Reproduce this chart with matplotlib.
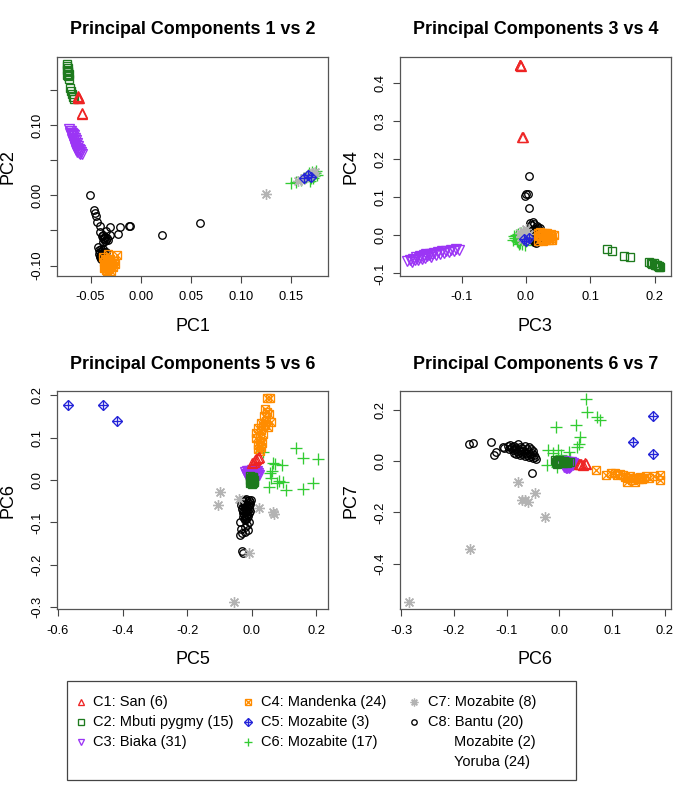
import matplotlib
matplotlib.use("Agg")
import matplotlib.pyplot as plt
from matplotlib.patches import Rectangle

plt.rcParams["font.family"] = ["Liberation Sans", "DejaVu Sans"]
plt.rcParams["axes.unicode_minus"] = False

W, H = 685, 806

groups = ["C1", "C2", "C3", "C4", "C5", "C6", "C7", "C8"]
legend_labels = ["C1: San (6)", "C2: Mbuti pygmy (15)", "C3: Biaka (31)",
                 "C4: Mandenka (24)", "C5: Mozabite (3)", "C6: Mozabite (17)",
                 "C7: Mozabite (8)", "C8: Bantu (20)"]
legend_extra = ["Mozabite (2)", "Yoruba (24)"]
colors = {"C1": "#ee2424", "C2": "#1d7a1d", "C3": "#9b35f5", "C4": "#ff8c00",
          "C5": "#2424d8", "C6": "#33cc33", "C7": "#b3b3b3", "C8": "#000000"}

# ---- PC1 vs PC2 ----
pc1_x = {
    "C1": [-0.062, -0.0615, -0.0625, -0.062, -0.058, -0.0585],
    "C2": [-0.073, -0.073, -0.072, -0.073, -0.072, -0.072, -0.071, -0.073, -0.072, -0.071,
           -0.070, -0.069, -0.068, -0.067, -0.066],
    "C3": [-0.071, -0.070, -0.069, -0.070, -0.068, -0.069, -0.067, -0.068, -0.066, -0.067,
           -0.068, -0.065, -0.066, -0.067, -0.064, -0.065, -0.066, -0.063, -0.064, -0.065,
           -0.062, -0.063, -0.064, -0.061, -0.062, -0.063, -0.060, -0.061, -0.059, -0.060, -0.058],
    "C4": [-0.038, -0.036, -0.034, -0.037, -0.035, -0.033, -0.031, -0.036, -0.034, -0.032,
           -0.030, -0.037, -0.035, -0.033, -0.031, -0.029, -0.027, -0.034, -0.032, -0.030,
           -0.028, -0.026, -0.024, -0.033],
    "C5": [0.163, 0.167, 0.170],
    "C6": [0.150, 0.155, 0.160, 0.163, 0.165, 0.167, 0.168, 0.169, 0.170, 0.171, 0.172, 0.173,
           0.174, 0.175, 0.176, 0.172, 0.169],
    "C7": [0.125, 0.157, 0.160, 0.163, 0.166, 0.169, 0.172, 0.174],
    "C8": [-0.051, -0.047, -0.046, -0.045, -0.044, -0.041, -0.041, -0.038, -0.035, -0.031,
           -0.031, -0.021, -0.023, -0.012, -0.011, 0.021, 0.059,
           -0.039, -0.038, -0.037, -0.036, -0.035, -0.034, -0.036, -0.033, -0.038,
           -0.043, -0.042, -0.041, -0.040, -0.039, -0.038, -0.042, -0.041, -0.040, -0.039,
           -0.037, -0.036, -0.040, -0.038, -0.037, -0.041, -0.039, -0.038, -0.036, -0.035],
}
pc2_y = {
    "C1": [0.140, 0.139, 0.141, 0.138, 0.116, 0.117],
    "C2": [0.187, 0.184, 0.181, 0.178, 0.176, 0.175, 0.173, 0.171, 0.169, 0.166,
           0.152, 0.148, 0.144, 0.140, 0.137],
    "C3": [0.094, 0.092, 0.091, 0.089, 0.088, 0.086, 0.087, 0.084, 0.085, 0.082,
           0.080, 0.081, 0.079, 0.077, 0.078, 0.075, 0.073, 0.074, 0.071, 0.069,
           0.070, 0.067, 0.065, 0.066, 0.063, 0.062, 0.064, 0.060, 0.061, 0.058, 0.059],
    "C4": [-0.088, -0.090, -0.092, -0.095, -0.097, -0.094, -0.091, -0.100, -0.102, -0.099,
           -0.096, -0.104, -0.106, -0.103, -0.101, -0.098, -0.093, -0.108, -0.105, -0.107,
           -0.102, -0.097, -0.085, -0.083],
    "C5": [0.024, 0.029, 0.026],
    "C6": [0.017, 0.019, 0.022, 0.024, 0.026, 0.029, 0.031, 0.027, 0.025, 0.033, 0.030, 0.028,
           0.032, 0.035, 0.029, 0.024, 0.021],
    "C7": [0.002, 0.020, 0.022, 0.025, 0.027, 0.029, 0.031, 0.033],
    "C8": [0.000, -0.021, -0.025, -0.029, -0.038, -0.044, -0.052, -0.056, -0.051, -0.045,
           -0.056, -0.045, -0.055, -0.044, -0.043, -0.057, -0.039,
           -0.058, -0.060, -0.062, -0.059, -0.063, -0.061, -0.065, -0.064, -0.066,
           -0.074, -0.078, -0.080, -0.076, -0.082, -0.085, -0.084, -0.086, -0.088, -0.079,
           -0.083, -0.087, -0.090, -0.089, -0.081, -0.088, -0.084, -0.077, -0.086, -0.080],
}

# ---- PC3 vs PC4 ----
pc3_x = {
    "C1": [-0.0095, -0.009, -0.0085, -0.0095, -0.005, -0.0055],
    "C2": [0.125, 0.133, 0.152, 0.161, 0.190, 0.194, 0.196, 0.198, 0.200, 0.201, 0.203,
           0.204, 0.206, 0.207, 0.208],
    "C3": [-0.184, -0.180, -0.177, -0.175, -0.172, -0.170, -0.168, -0.166, -0.164, -0.162,
           -0.160, -0.158, -0.156, -0.155, -0.153, -0.151, -0.149, -0.147, -0.145, -0.142,
           -0.139, -0.136, -0.133, -0.130, -0.127, -0.124, -0.120, -0.116, -0.112, -0.108, -0.104],
    "C4": [0.018, 0.020, 0.022, 0.024, 0.026, 0.028, 0.030, 0.032, 0.034, 0.036, 0.038, 0.040,
           0.019, 0.021, 0.023, 0.025, 0.027, 0.029, 0.031, 0.033, 0.035, 0.038, 0.041, 0.043],
    "C5": [-0.003, 0.000, 0.004],
    "C6": [-0.020, -0.017, -0.015, -0.012, -0.010, -0.008, -0.006, -0.004, -0.002, 0.000,
           -0.018, -0.014, -0.011, -0.007, -0.003, -0.013, -0.009],
    "C7": [-0.010, -0.007, -0.004, -0.001, 0.002, 0.005, -0.006, 0.000],
    "C8": [0.005, 0.000, 0.003, -0.002, 0.004, 0.006, 0.011, 0.017, 0.022, 0.008, 0.013, 0.019,
           0.010, 0.012, 0.014, 0.016, 0.018, 0.020, 0.022, 0.011, 0.013, 0.015, 0.017, 0.019,
           0.021, 0.010, 0.012, 0.014, 0.016, 0.018, 0.020, 0.022, 0.011, 0.013, 0.015, 0.017,
           0.019, 0.021, 0.012, 0.014, 0.016, 0.018, 0.020, 0.013, 0.015, 0.017],
}
pc4_y = {
    "C1": [0.447, 0.448, 0.446, 0.449, 0.260, 0.258],
    "C2": [-0.037, -0.040, -0.054, -0.056, -0.071, -0.072, -0.075, -0.073, -0.077, -0.079,
           -0.078, -0.081, -0.080, -0.083, -0.084],
    "C3": [-0.068, -0.064, -0.070, -0.062, -0.066, -0.058, -0.064, -0.060, -0.055, -0.062,
           -0.057, -0.053, -0.059, -0.050, -0.055, -0.052, -0.048, -0.056, -0.050, -0.046,
           -0.052, -0.044, -0.048, -0.042, -0.046, -0.040, -0.044, -0.038, -0.041, -0.037, -0.039],
    "C4": [0.005, -0.002, 0.008, -0.006, 0.003, -0.010, 0.006, -0.004, 0.002, -0.012, 0.004,
           -0.008, -0.014, 0.001, -0.009, 0.007, -0.015, -0.001, -0.011, 0.005, -0.007, -0.003,
           -0.013, 0.000],
    "C5": [-0.010, -0.015, -0.008],
    "C6": [-0.012, -0.008, 0.002, -0.018, -0.004, 0.005, -0.022, -0.010, -0.026, -0.015,
           -0.002, -0.014, -0.024, -0.001, -0.006, 0.004, -0.019],
    "C7": [0.006, -0.004, 0.012, 0.000, -0.008, 0.004, -0.012, 0.016],
    "C8": [0.157, 0.108, 0.110, 0.104, 0.071, 0.033, 0.036, 0.025, 0.018, 0.028, 0.030, 0.020,
           0.012, 0.014, 0.010, 0.013, 0.011, 0.015, 0.009, 0.006, 0.004, 0.007, 0.003, 0.005,
           0.002, 0.000, -0.002, 0.001, -0.003, -0.001, -0.004, 0.000, -0.006, -0.008, -0.005,
           -0.009, -0.007, -0.010, -0.012, -0.014, -0.011, -0.015, -0.013, -0.017, -0.019, -0.016],
}

# ---- PC5 vs PC6 ----
pc5_x = {
    "C1": [0.021, 0.018, 0.010, 0.006, 0.000, 0.014],
    "C2": [-0.005, 0.000, 0.004, -0.003, 0.002, 0.006, -0.006, 0.000, 0.005, -0.002, 0.003,
           0.008, -0.004, 0.001, 0.004],
    "C3": [-0.020, -0.016, -0.012, -0.008, -0.004, 0.000, 0.004, 0.008, 0.012, 0.016, 0.020,
           -0.018, -0.014, -0.010, -0.006, -0.002, 0.002, 0.006, 0.010, 0.014, 0.018, -0.015,
           -0.011, -0.007, -0.003, 0.001, 0.005, 0.009, 0.013, 0.017, 0.021],
    "C4": [0.046, 0.057, 0.041, 0.048, 0.052, 0.060, 0.038, 0.044, 0.030, 0.036, 0.020, 0.028,
           0.014, 0.034, 0.026, 0.012, 0.024, 0.032, 0.018, 0.028, 0.020, 0.026, 0.042, 0.050],
    "C5": [-0.570, -0.459, -0.416],
    "C6": [0.137, 0.158, 0.206, 0.067, 0.093, 0.072, 0.057, 0.062, 0.060, 0.098, 0.085, 0.160,
           0.191, 0.052, 0.106, 0.077, 0.036],
    "C7": [-0.098, -0.103, -0.041, 0.021, 0.067, 0.070, -0.008, -0.054],
    "C8": [-0.036, -0.030, -0.020, -0.012, -0.032, -0.022, -0.015, -0.030, -0.026, -0.035, -0.010,
           -0.034, -0.030, -0.026, -0.022, -0.018, -0.014, -0.010, -0.006, -0.002,
           -0.032, -0.028, -0.024, -0.020, -0.016, -0.012, -0.008, -0.004,
           -0.030, -0.026, -0.022, -0.018, -0.014, -0.010, -0.006,
           -0.028, -0.024, -0.020, -0.016, -0.012, -0.008,
           -0.026, -0.022, -0.018, -0.014, -0.020],
}
pc6_y = {
    "C1": [0.055, 0.052, 0.047, 0.043, 0.039, 0.050],
    "C2": [0.010, 0.008, 0.006, 0.004, 0.002, 0.000, 0.000, -0.002, -0.003, -0.005, -0.006,
           -0.004, -0.008, -0.009, 0.003],
    "C3": [0.020, 0.022, 0.018, 0.021, 0.019, 0.023, 0.020, 0.022, 0.018, 0.021, 0.017,
           0.015, 0.013, 0.016, 0.012, 0.015, 0.011, 0.014, 0.012, 0.016, 0.013, 0.009,
           0.011, 0.008, 0.010, 0.007, 0.009, 0.011, 0.008, 0.010, 0.012],
    "C4": [0.193, 0.193, 0.168, 0.160, 0.155, 0.138, 0.150, 0.140, 0.135, 0.128, 0.122, 0.118,
           0.112, 0.108, 0.102, 0.098, 0.092, 0.088, 0.082, 0.077, 0.072, 0.068, 0.130, 0.125],
    "C5": [0.177, 0.177, 0.139],
    "C6": [0.075, 0.051, 0.049, 0.039, 0.035, 0.037, 0.016, 0.022, 0.005, -0.004, -0.002,
           -0.022, -0.008, -0.016, -0.024, -0.006, 0.067],
    "C7": [-0.029, -0.059, -0.045, -0.067, -0.075, -0.079, -0.172, -0.287],
    "C8": [-0.130, -0.125, -0.122, -0.118, -0.115, -0.110, -0.105, -0.168, -0.172, -0.100, -0.098,
           -0.050, -0.046, -0.052, -0.048, -0.044, -0.050, -0.046, -0.052, -0.048,
           -0.058, -0.062, -0.056, -0.060, -0.064, -0.058, -0.062, -0.056,
           -0.068, -0.072, -0.066, -0.070, -0.074, -0.068, -0.072,
           -0.078, -0.082, -0.076, -0.080, -0.084, -0.078,
           -0.088, -0.092, -0.086, -0.090, -0.095],
}

# ---- PC6 vs PC7 ----
pc6_x = {
    "C1": [0.039, 0.041, 0.050, 0.049, 0.044, 0.038],
    "C2": [-0.008, -0.004, 0.000, 0.004, 0.008, 0.012, 0.016, 0.020, -0.006, -0.002, 0.002,
           0.006, 0.010, 0.014, -0.004],
    "C3": [0.005, 0.008, 0.011, 0.014, 0.017, 0.020, 0.023, 0.026, 0.006, 0.009, 0.012, 0.015,
           0.018, 0.021, 0.024, 0.027, 0.007, 0.010, 0.013, 0.016, 0.019, 0.022, 0.025, 0.008,
           0.011, 0.014, 0.017, 0.020, 0.012, 0.015, 0.018],
    "C4": [0.070, 0.089, 0.097, 0.105, 0.110, 0.115, 0.121, 0.124, 0.128, 0.131, 0.134, 0.137,
           0.140, 0.143, 0.146, 0.150, 0.153, 0.156, 0.160, 0.165, 0.170, 0.180, 0.191, 0.191],
    "C5": [0.177, 0.139, 0.178],
    "C6": [0.050, 0.052, 0.071, 0.077, -0.006, 0.032, 0.040, 0.034, 0.037, -0.021, -0.002,
           0.019, -0.024, -0.005, -0.012, 0.003, 0.020],
    "C7": [-0.285, -0.169, -0.078, -0.071, -0.065, -0.059, -0.047, -0.027],
    "C8": [-0.172, -0.164, -0.130, -0.124, -0.121, -0.106, -0.104, -0.052,
           -0.098, -0.094, -0.090, -0.086, -0.082, -0.078, -0.074, -0.070, -0.066, -0.062,
           -0.058, -0.054, -0.050,
           -0.096, -0.092, -0.088, -0.084, -0.080, -0.076, -0.072, -0.068, -0.064, -0.060,
           -0.056, -0.052, -0.048,
           -0.086, -0.082, -0.078, -0.074, -0.070, -0.066, -0.062, -0.058, -0.054, -0.050,
           -0.046, -0.044],
}
pc7_y = {
    "C1": [-0.010, -0.012, -0.011, -0.009, -0.015, -0.013],
    "C2": [0.002, -0.001, 0.003, -0.002, 0.001, -0.003, -0.005, -0.004, -0.006, -0.008, -0.005,
           -0.007, -0.006, -0.009, -0.010],
    "C3": [-0.003, -0.005, -0.002, -0.006, -0.004, -0.007, -0.005, -0.008, -0.010, -0.012,
           -0.009, -0.013, -0.011, -0.014, -0.012, -0.010, -0.016, -0.018, -0.015, -0.019,
           -0.017, -0.020, -0.016, -0.022, -0.024, -0.021, -0.025, -0.023, -0.027, -0.028, -0.026],
    "C4": [-0.034, -0.053, -0.048, -0.047, -0.055, -0.050, -0.053, -0.062, -0.082, -0.068,
           -0.060, -0.075, -0.065, -0.080, -0.066, -0.072, -0.062, -0.070, -0.065, -0.060,
           -0.068, -0.060, -0.053, -0.073],
    "C5": [0.176, 0.075, 0.026],
    "C6": [0.241, 0.192, 0.172, 0.159, 0.133, 0.140, 0.092, 0.056, 0.065, 0.043, 0.043, 0.036,
           -0.016, -0.022, 0.030, 0.025, 0.010],
    "C7": [-0.547, -0.343, -0.080, -0.152, -0.152, -0.158, -0.126, -0.219],
    "C8": [0.066, 0.071, 0.075, 0.023, 0.036, 0.056, 0.052, -0.048,
           0.058, 0.062, 0.055, 0.060, 0.052, 0.064, 0.056, 0.050, 0.058, 0.046, 0.054, 0.048,
           0.040,
           0.045, 0.050, 0.042, 0.048, 0.038, 0.044, 0.036, 0.040, 0.032, 0.036, 0.028, 0.030,
           0.022,
           0.030, 0.026, 0.032, 0.022, 0.028, 0.018, 0.024, 0.014, 0.020, 0.010, 0.016, 0.008],
}

draw_order = ["C8", "C6", "C7", "C5", "C4", "C3", "C2", "C1"]


def px_box(l, t, r, b):
    return [l / W, 1 - b / H, (r - l) / W, (b - t) / H]


def draw_pts(ax, g, x, y, k=1.0, clip=True):
    c = colors[g]
    kw = dict(linestyle="none", color=c, mfc="none", mec=c, mew=0.95, clip_on=clip)
    if g == "C1":
        ax.plot(x, y, marker="^", ms=6.8 * k, **kw)
    elif g == "C2":
        ax.plot(x, y, marker="s", ms=5.4 * k, **kw)
    elif g == "C3":
        ax.plot(x, y, marker="v", ms=6.8 * k, **kw)
    elif g == "C4":
        ax.plot(x, y, marker="s", ms=5.8 * k, **kw)
        ax.plot(x, y, marker="x", ms=5.8 * k, **kw)
    elif g == "C5":
        ax.plot(x, y, marker="D", ms=5.5 * k, **kw)
        ax.plot(x, y, marker="+", ms=7.8 * k, **kw)
    elif g == "C6":
        ax.plot(x, y, marker="+", ms=8.0 * k, **kw)
    elif g == "C7":
        ax.plot(x, y, marker=(8, 2, 0), ms=7.8 * k, **kw)
    else:
        ax.plot(x, y, marker="o", ms=5.4 * k, **kw)


fig = plt.figure(figsize=(W / 100, H / 100), dpi=100)

panels = [
    dict(box=(57.3, 56.7, 328.3, 276.0), xs=pc1_x, ys=pc2_y,
         xlim=(-0.0831, 0.187), ylim=(-0.1147, 0.197),
         xt=[-0.05, 0.0, 0.05, 0.10, 0.15], xl=["-0.05", "0.00", "0.05", "0.10", "0.15"],
         yt=[-0.10, -0.05, 0.0, 0.05, 0.10, 0.15], yl=["-0.10", "", "0.00", "", "0.10", ""],
         title="Principal Components 1 vs 2", xlab="PC1", ylab="PC2"),
    dict(box=(400.0, 56.7, 670.7, 276.0), xs=pc3_x, ys=pc4_y,
         xlim=(-0.1954, 0.2244), ylim=(-0.107, 0.470),
         xt=[-0.1, 0.0, 0.1, 0.2], xl=["-0.1", "0.0", "0.1", "0.2"],
         yt=[-0.1, 0.0, 0.1, 0.2, 0.3, 0.4], yl=["-0.1", "0.0", "0.1", "0.2", "0.3", "0.4"],
         title="Principal Components 3 vs 4", xlab="PC3", ylab="PC4"),
    dict(box=(57.3, 391.0, 328.3, 609.3), xs=pc5_x, ys=pc6_y,
         xlim=(-0.602, 0.237), ylim=(-0.305, 0.210),
         xt=[-0.6, -0.4, -0.2, 0.0, 0.2], xl=["-0.6", "-0.4", "-0.2", "0.0", "0.2"],
         yt=[-0.3, -0.2, -0.1, 0.0, 0.1, 0.2], yl=["-0.3", "-0.2", "-0.1", "0.0", "0.1", "0.2"],
         title="Principal Components 5 vs 6", xlab="PC5", ylab="PC6"),
    dict(box=(400.0, 391.0, 670.7, 609.3), xs=pc6_x, ys=pc7_y,
         xlim=(-0.302, 0.211), ylim=(-0.577, 0.272),
         xt=[-0.3, -0.2, -0.1, 0.0, 0.1, 0.2], xl=["-0.3", "-0.2", "-0.1", "0.0", "0.1", "0.2"],
         yt=[-0.4, -0.2, 0.0, 0.2], yl=["-0.4", "-0.2", "0.0", "0.2"],
         title="Principal Components 6 vs 7", xlab="PC6", ylab="PC7"),
]

for p in panels:
    l, t, r, b = p["box"]
    ax = fig.add_axes(px_box(l, t, r, b))
    for g in draw_order:
        draw_pts(ax, g, p["xs"][g], p["ys"][g])
    ax.set_xlim(p["xlim"])
    ax.set_ylim(p["ylim"])
    ax.set_xticks(p["xt"])
    ax.set_xticklabels(p["xl"])
    ax.set_yticks(p["yt"])
    ax.set_yticklabels(p["yl"], rotation=90, va="center")
    ax.tick_params(length=5, width=0.8, color="#444444", labelsize=9.3)
    ax.tick_params(axis="x", pad=6)
    ax.tick_params(axis="y", pad=5)
    for s in ax.spines.values():
        s.set_color("#555555")
        s.set_linewidth(0.9)
    cx = (l + r) / 2
    fig.text(cx / W, 1 - (t - 27) / H, p["title"], ha="center", va="center",
             fontsize=12.9, fontweight="bold")
    fig.text(cx / W, 1 - (b + 50.5) / H, p["xlab"], ha="center", va="center", fontsize=13)
    fig.text((l - 49) / W, 1 - (t + b) / 2 / H, p["ylab"], ha="center", va="center",
             fontsize=13, rotation=90)

# legend box
fig.patches.append(Rectangle((67 / W, 1 - 780 / H), (576 - 67) / W, (780 - 681) / H,
                             transform=fig.transFigure, fill=False,
                             edgecolor="#444444", linewidth=0.9))
lax = fig.add_axes([0, 0, 1, 1])
lax.set_xlim(0, W)
lax.set_ylim(H, 0)
lax.axis("off")
mark_x = [80.7, 248.3, 414.3]
text_x = [93.3, 260.7, 428.3]
row_y = [701.7, 721.7, 741.7, 761.7]
for i, g in enumerate(groups):
    col, row = divmod(i, 3)
    draw_pts(lax, g, [mark_x[col]], [row_y[row]], k=0.72, clip=False)
    lax.text(text_x[col], row_y[row], legend_labels[i], ha="left", va="center", fontsize=10.5)
for j, s in enumerate(legend_extra):
    lax.text(454.5, row_y[2 + j], s, ha="left", va="center", fontsize=10.5)

fig.savefig("out.png", dpi=100)
